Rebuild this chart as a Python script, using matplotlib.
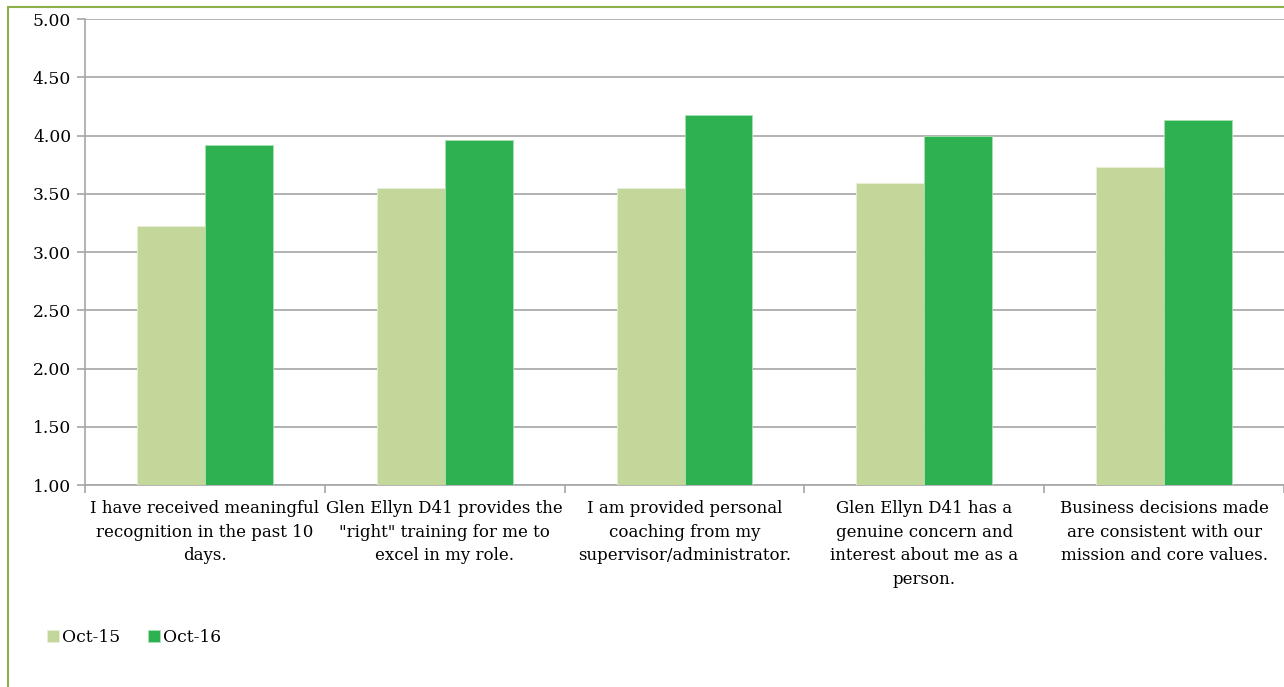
import numpy as np
import matplotlib.pyplot as plt
from matplotlib.patches import Rectangle
from matplotlib.ticker import FixedLocator, NullFormatter

plt.rcParams['font.family'] = ['DejaVu Serif']

## DATA ##
categories = [
    'I have received meaningful\nrecognition in the past 10\ndays.',
    'Glen Ellyn D41 provides the\n"right" training for me to\nexcel in my role.',
    'I am provided personal\ncoaching from my\nsupervisor/administrator.',
    'Glen Ellyn D41 has a\ngenuine concern and\ninterest about me as a\nperson.',
    'Business decisions made\nare consistent with our\nmission and core values.',
]
oct15 = [3.22, 3.55, 3.55, 3.59, 3.73]
oct16 = [3.92, 3.96, 4.18, 4.00, 4.13]
yticks = [1.0, 1.5, 2.0, 2.5, 3.0, 3.5, 4.0, 4.5, 5.0]

fig = plt.figure(figsize=(12.84, 6.87), dpi=100)
ax = fig.add_axes([85/1284, 1 - 485/687, 1 - 85/1284, (485 - 19)/687])

x = np.arange(len(categories))
w = 0.283
ax.bar(x - w/2, np.array(oct15) - 1, w, bottom=1, color='#C4D79B',
       edgecolor='#E8F0D8', linewidth=0.6, label='Oct-15', zorder=3)
ax.bar(x + w/2, np.array(oct16) - 1, w, bottom=1, color='#2EB150',
       edgecolor='#A8E0B4', linewidth=0.6, label='Oct-16', zorder=3)

ax.set_ylim(1, 5)
ax.set_xlim(-0.5, len(categories) - 0.5)
ax.set_yticks(yticks)
ax.set_yticklabels(['%.2f' % t for t in yticks])
ax.yaxis.grid(True, color='#A6A6A6', linewidth=1.2, zorder=0)
ax.set_axisbelow(True)

# category labels between boundary ticks
ax.set_xticks(x)
ax.set_xticklabels(categories, fontsize=12, linespacing=1.5)
ax.tick_params(axis='x', length=0, pad=11)
ax.xaxis.set_minor_locator(FixedLocator(np.arange(-0.5, len(categories), 1.0)))
ax.xaxis.set_minor_formatter(NullFormatter())
ax.tick_params(axis='x', which='minor', length=6, color='#A6A6A6', width=1.2)
ax.tick_params(axis='y', length=6, color='#A6A6A6', width=1.2, labelsize=12.3, pad=4)

for s in ['top', 'right']:
    ax.spines[s].set_visible(False)
for s in ['left', 'bottom']:
    ax.spines[s].set_color('#A6A6A6')
    ax.spines[s].set_linewidth(1.2)

ax.legend(loc='lower left', bbox_to_anchor=(40/1284, 34/687), bbox_transform=fig.transFigure,
          ncol=2, frameon=False, fontsize=12.3, handlelength=0.7, handleheight=0.7,
          handletextpad=0.2, columnspacing=1.6, borderaxespad=0)

# outer chart border
fig.patches.append(Rectangle((8/1284, -0.05), 1.1, 1 - 7/687 + 0.05, transform=fig.transFigure,
                             fill=False, edgecolor='#8DB04A', linewidth=1.5, clip_on=False))

fig.savefig('out.png', dpi=100)
